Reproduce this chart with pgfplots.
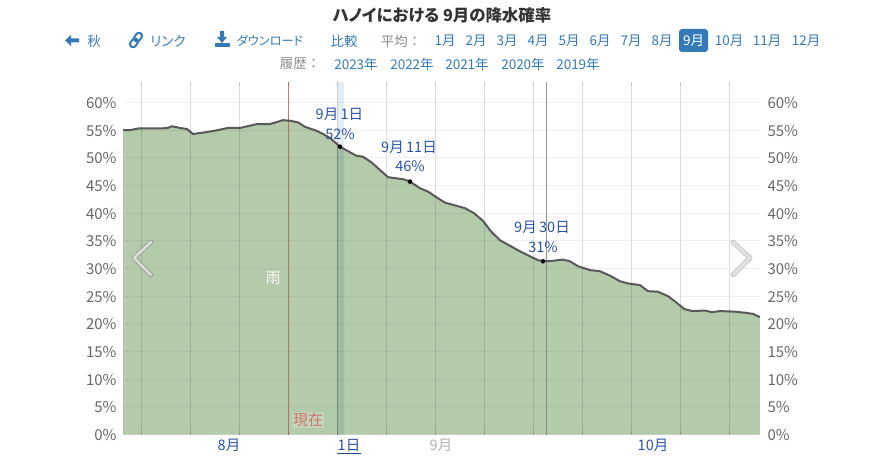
\documentclass[border=0pt]{standalone}
\usepackage{pgfplots}
\pgfplotsset{compat=1.18}
\usepackage{fontspec}
\setmainfont[RawFeature=+palt]{Noto Sans CJK JP}
\newfontfamily\lf{Noto Sans CJK JP}
\definecolor{lk}{HTML}{337AB7}
\definecolor{dl}{HTML}{2A52A5}
\definecolor{gt}{HTML}{666666}
\definecolor{fl}{HTML}{B4CBAB}
\definecolor{nw}{HTML}{CB7768}
\begin{document}
\begin{tikzpicture}[x=1pt,y=1pt]
\path[use as bounding box] (0,0) rectangle (873,461);
\pgfplotsset{base/.style={at={(123pt,26.5pt)},anchor=south west,scale only axis,width=637pt,height=352.5pt,
 xmin=123,xmax=760,ymin=0,ymax=63.7,ytick={0,5,...,60},
 yticklabel={\pgfmathprintnumber{\tick}\%},
 /pgf/number format/assume math mode=true,
 tick label style={font=\fontsize{15}{15}\selectfont,text=gt},
 axis line style={draw=none},ytick style={draw=none}}}
\begin{axis}[base,axis on top,
 xtick={141,190,239,288,337,386,435,484,533,582,631,680,729},xticklabels={},
 major tick length=4pt,xtick style={draw=black,opacity=.1,line width=.9pt},
 grid=major,
 x grid style={draw=black,opacity=.13,line width=.9pt},
 y grid style={draw=black,opacity=.055,line width=1pt},
 yticklabel style={xshift=-3pt,yshift=-.6pt}]
\addplot[draw=none,fill=lk!25,fill opacity=.55,forget plot] coordinates {(337,63.7)(344,63.7)(344,0)(337,0)} \closedcycle;
\addplot[fill=fl,draw=none,forget plot] table[x=px,y=pct]{
px pct
123 55.0
130 55.0
138 55.3
160 55.3
168 55.4
172 55.7
180 55.4
187 55.2
193 54.3
205 54.6
215 54.9
228 55.4
240 55.4
250 55.8
257 56.1
270 56.1
283 56.8
290 56.7
298 56.4
305 55.6
315 55.0
322 54.4
330 53.6
340 52.0
350 51.0
356 50.4
363 50.2
372 49.1
380 47.8
388 46.5
396 46.3
404 46.1
410 45.7
420 44.5
428 43.9
437 42.8
445 41.9
455 41.4
465 40.9
474 40.0
483 38.6
491 36.7
500 35.1
510 34.1
520 33.1
530 32.2
538 31.5
544 31.3
553 31.4
563 31.6
570 31.3
578 30.4
590 29.7
600 29.5
610 28.7
620 27.7
628 27.3
640 27.0
648 25.9
658 25.8
668 25.0
676 23.9
684 22.7
692 22.3
705 22.4
712 22.1
720 22.3
735 22.2
745 22.0
753 21.8
760 21.2
} \closedcycle;
\addplot[draw=none,fill=lk!60!black,fill opacity=.13,forget plot] coordinates {(337,52.7)(344,51.3)(344,0)(337,0)} \closedcycle;
\addplot[draw=black!50,opacity=.5,line width=1pt,forget plot] coordinates {(337,0)(337,52.7)};
\addplot[draw=black!55,opacity=.75,line width=.8pt,forget plot] coordinates {(546.5,0)(546.5,63.7)};
\addplot[draw=nw,opacity=.8,line width=1pt,forget plot] coordinates {(288,0)(288,63.7)};
\addplot[draw=black!65,line width=2pt,forget plot] table[x=px,y=pct]{
px pct
123 55.0
130 55.0
138 55.3
160 55.3
168 55.4
172 55.7
180 55.4
187 55.2
193 54.3
205 54.6
215 54.9
228 55.4
240 55.4
250 55.8
257 56.1
270 56.1
283 56.8
290 56.7
298 56.4
305 55.6
315 55.0
322 54.4
330 53.6
340 52.0
350 51.0
356 50.4
363 50.2
372 49.1
380 47.8
388 46.5
396 46.3
404 46.1
410 45.7
420 44.5
428 43.9
437 42.8
445 41.9
455 41.4
465 40.9
474 40.0
483 38.6
491 36.7
500 35.1
510 34.1
520 33.1
530 32.2
538 31.5
544 31.3
553 31.4
563 31.6
570 31.3
578 30.4
590 29.7
600 29.5
610 28.7
620 27.7
628 27.3
640 27.0
648 25.9
658 25.8
668 25.0
676 23.9
684 22.7
692 22.3
705 22.4
712 22.1
720 22.3
735 22.2
745 22.0
753 21.8
760 21.2
};
\addplot[only marks,mark=*,mark size=2pt,black,forget plot] coordinates {(340,52)(410,45.7)(543,31.3)};
\end{axis}
\begin{axis}[base,axis y line*=right,axis x line=none,yticklabel style={xshift=4pt,yshift=-.6pt}]
\addplot[draw=none,forget plot] coordinates {(123,0)(760,60)};
\end{axis}
\newcommand{\T}[4][]{\node[font=\fontsize{#2}{#2}\selectfont,inner sep=0pt,anchor=center,#1] at (#3) {#4};}
\def\F{13.5}
\def\G{14.5}
% title
\T[font=\fontsize{16.4}{17}\selectfont\bfseries,text=black!80]{16.4}{442,446}{ハノイにおける 9月の降水確率}
% row 1
\fill[lk] (65,420.5) -- (71,426) -- (71,422.5) -- (79,422.5) -- (79,418.5) -- (71,418.5) -- (71,415) -- cycle;
\T[text=lk]{\F}{94,420}{秋}
\draw[lk,line width=2pt,rotate around={55:(136,421)},rounded corners=2.5pt] (128,418) rectangle (137,424) (135,418) rectangle (144,424);
\T[text=lk]{\F}{168,420}{リンク}
\fill[lk] (220,430) -- (224,430) -- (224,424) -- (227,424) -- (222,418) -- (217,424) -- (220,424) -- cycle;
\fill[lk] (215,413.5) rectangle (230,418);
\T[text=lk]{12.2}{270,420}{ダウンロード}
\T[text=lk]{\F}{344,420}{比較}
\T[text=gt!75]{\F}{401,420}{{\lf 平均：}}
\T[text=lk]{\F}{445,420}{1月}
\T[text=lk]{\F}{476,420}{2月}
\T[text=lk]{\F}{507,420}{3月}
\T[text=lk]{\F}{538,420}{4月}
\T[text=lk]{\F}{569,420}{5月}
\T[text=lk]{\F}{600,420}{6月}
\T[text=lk]{\F}{631,420}{7月}
\T[text=lk]{\F}{662,420}{8月}
\fill[lk,rounded corners=3pt] (679,409) rectangle (708,432);
\T[text=white]{\F}{693.5,420}{9月}
\T[text=lk]{\F}{729,420}{10月}
\T[text=lk]{\F}{767,420}{11月}
\T[text=lk]{\F}{806,420}{12月}
% row 2
\T[text=gt!75]{\F}{300,397}{{\lf 履歴：}}
\T[text=lk]{\F}{356,397}{2023年}
\T[text=lk]{\F}{412,397}{2022年}
\T[text=lk]{\F}{467,397}{2021年}
\T[text=lk]{\F}{523,397}{2020年}
\T[text=lk]{\F}{578,397}{2019年}
% data labels
\T[text=dl]{\G}{339.5,347}{{\lf 9月\,1日}}
\T[text=dl]{\G}{340,327}{{\lf 52\%}}
\T[text=dl]{\G}{409,314}{{\lf 9月\,11日}}
\T[text=dl]{\G}{410,295}{{\lf 46\%}}
\T[text=dl]{\G}{542,234}{{\lf 9月\,30日}}
\T[text=dl]{\G}{543,214}{{\lf 31\%}}
% in-plot
\T[text=white!90!fl]{15}{273,183}{雨}
\T[text=nw,fill=white,fill opacity=.2,text opacity=1,inner sep=1pt]{15}{308,41}{現在}
% x labels
\T[text=dl]{\G}{229,16}{8月}
\T[text=dl]{\G}{349,16}{1日}
\draw[lk!70!black,line width=1pt] (337,7.5) -- (361,7.5);
\T[text=black!30]{\G}{441,16}{9月}
\T[text=dl]{\G}{653,16}{10月}
% chevrons
\draw[black!40,line width=4.4pt,line join=round,line cap=round] (151,219) -- (134,203) -- (151,186);
\draw[fl!55!white,line width=2.8pt,line join=round,line cap=round] (151,219) -- (134,203) -- (151,186);
\draw[black!22,line width=5pt,line join=round,line cap=round] (733,219) -- (750,203) -- (733,186);
\draw[black!12,line width=3.4pt,line join=round,line cap=round] (733,219) -- (750,203) -- (733,186);
\end{tikzpicture}
\end{document}
